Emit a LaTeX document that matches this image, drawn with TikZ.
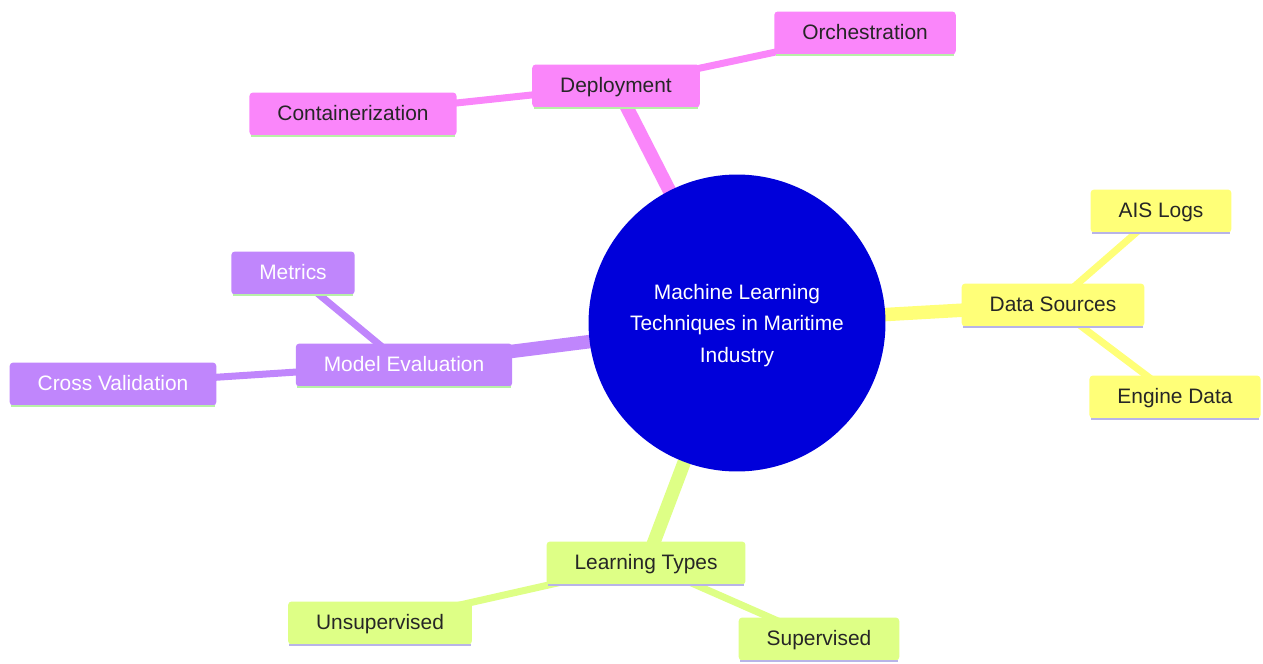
\documentclass[tikz,border=0pt]{standalone}
\usepackage{fontspec}
\setmainfont{Liberation Sans}
\usetikzlibrary{backgrounds}
\definecolor{rootblue}{RGB}{0, 0, 218}
\definecolor{mmpink}{RGB}{250, 134, 250}
\definecolor{mmpurple}{RGB}{192, 134, 252}
\definecolor{mmyellow}{RGB}{255, 255, 120}
\definecolor{mmgreen}{RGB}{222, 255, 134}
\definecolor{mintline}{RGB}{184, 240, 168}
\definecolor{lilacline}{RGB}{184, 180, 232}

\tikzset{
    topic/.style={rectangle, rounded corners=2pt, fill=#1, inner xsep=0.56cm, inner ysep=0pt,
                  minimum height=0.86cm, text height=0.9em, text depth=0.18em,
                  font=\fontsize{11.9}{14}\selectfont, text=black!85},
    pale/.style={text=white},
    trunk/.style={line width=0.27cm, draw=#1},
    twig/.style={line width=0.14cm, draw=#1},
}

\begin{document}
\begin{tikzpicture}[x=0.02cm, y=-0.02cm]
            \useasboundingbox (0,0) rectangle (1263,663);
            % Root
            \node[circle, fill=rootblue, minimum size=5.94cm,
                  label={[align=center, text=white, yshift=-0.05cm,
                          font=\fontsize{11.9}{18}\selectfont]center:Machine Learning\\Techniques in Maritime\\Industry}]
                 (root) at (737,323) {};
            % Deployment
            \node[topic=mmpink]          (deploy)     at ( 616,  86) {Deployment};
            \node[topic=mmpink]          (orchestr)   at ( 865,  33) {Orchestration};
            \node[topic=mmpink]          (container)  at ( 353, 114) {Containerization};
            % Model Evaluation
            \node[topic=mmpurple, pale]  (evaluation) at ( 404, 365) {Model Evaluation};
            \node[topic=mmpurple, pale]  (metrics)    at ( 293, 273) {Metrics};
            \node[topic=mmpurple, pale]  (crossval)   at ( 113, 384) {Cross Validation};
            % Data Sources
            \node[topic=mmyellow]        (sources)    at (1053, 305) {Data Sources};
            \node[topic=mmyellow]        (aislogs)    at (1161, 211) {AIS Logs};
            \node[topic=mmyellow]        (engine)     at (1175, 397) {Engine Data};
            % Learning Types
            \node[topic=mmgreen]         (learning)   at ( 646, 563) {Learning Types};
            \node[topic=mmgreen]         (unsup)      at ( 380, 623) {Unsupervised};
            \node[topic=mmgreen]         (sup)        at ( 819, 639) {Supervised};
            % Branches behind the boxes
            \begin{pgfonlayer}{background}
                \draw[trunk=mmpink]    (root.center)       -- (deploy.center);
                \draw[trunk=mmpurple]  (root.center)       -- (evaluation.center);
                \draw[trunk=mmyellow]  (root.center)       -- (sources.center);
                \draw[trunk=mmgreen]   (root.center)       -- (learning.center);
                \draw[twig=mmpink]     (deploy.center)     -- (orchestr.center);
                \draw[twig=mmpink]     (deploy.center)     -- (container.center);
                \draw[twig=mmpurple]   (evaluation.center) -- (metrics.center);
                \draw[twig=mmpurple]   (evaluation.center) -- (crossval.center);
                \draw[twig=mmyellow]   (sources.center)    -- (aislogs.center);
                \draw[twig=mmyellow]   (sources.center)    -- (engine.center);
                \draw[twig=mmgreen]    (learning.center)   -- (unsup.center);
                \draw[twig=mmgreen]    (learning.center)   -- (sup.center);
            \end{pgfonlayer}
            % Underlines
            \foreach \n/\c in {deploy/mintline, orchestr/mintline, container/mintline,
                               evaluation/mintline, metrics/mintline, crossval/mintline,
                               sources/lilacline, aislogs/lilacline, engine/lilacline,
                               learning/lilacline, unsup/lilacline, sup/lilacline}
                \draw[\c, line width=1.5pt] ([xshift=1pt]\n.south west) -- ([xshift=-1pt]\n.south east);
        \end{tikzpicture}
\end{document}
